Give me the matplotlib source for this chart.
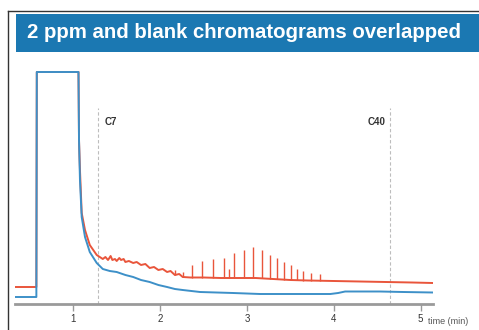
import matplotlib
matplotlib.use('Agg')
import matplotlib.pyplot as plt
from matplotlib.patches import Rectangle
from matplotlib.lines import Line2D

# ---- colours ----
RED = "#e9553b"
BLUE = "#3d90c8"
TITLE_BG = "#1b78b2"
GREY = "#9a9a9a"
DARK = "#333333"

# ---- data (time in min, detector response in arbitrary units) ----
blue_t = [0.33, 0.575, 0.58, 1.06, 1.066, 1.077, 1.097, 1.135, 1.19, 1.27, 1.34,
          1.42, 1.50, 1.60, 1.69, 1.78, 1.88, 1.98, 2.08, 2.17, 2.26, 2.46, 2.65,
          2.84, 3.15, 3.40, 3.61, 3.80, 3.96, 4.05, 4.13, 4.35, 4.53, 4.80, 5.14]
blue_y = [7, 7, 232, 232, 164, 124, 87, 67, 52, 41, 35,
          33, 32, 29, 27, 24, 22, 19, 17, 15, 14, 12, 11.5,
          11, 10, 10, 10, 10, 10, 11, 12.5, 12.5, 12.5, 12, 11.5]

red_t = [0.33, 0.575, 0.58, 1.06, 1.066, 1.077, 1.097, 1.135, 1.19, 1.27, 1.34,
         1.37, 1.40, 1.43, 1.45, 1.48, 1.50, 1.53, 1.55, 1.58, 1.60, 1.64, 1.69,
         1.73, 1.78, 1.83, 1.88, 1.93, 1.98, 2.03, 2.08, 2.12, 2.17, 2.22, 2.26,
         2.35, 2.50, 2.70, 2.90, 3.10, 3.30, 3.50, 3.70, 4.00, 4.30, 4.60, 4.90, 5.14]
red_y = [17, 17, 232, 232, 164, 134, 91, 74, 59, 49, 45,
         47, 44, 48, 44, 45, 43, 46, 44, 45, 42, 43, 41,
         42, 39, 40, 36, 37, 34, 35, 32, 33, 29, 30, 27,
         26.5, 26.5, 26, 26, 26, 25, 24, 23.5, 23, 22.5, 22, 21.5, 21]

# homologue peaks in the 2 ppm run
peak_t = [2.171, 2.263, 2.367, 2.482, 2.608, 2.735, 2.793, 2.850, 2.965, 3.069,
          3.173, 3.265, 3.345, 3.426, 3.507, 3.576, 3.645, 3.737, 3.840]
peak_base = [29, 27, 26.5, 26.5, 26.5, 26, 26, 26, 26, 26,
             26, 25.5, 25, 24.5, 24, 24, 23.5, 23.5, 23]
peak_top = [34, 32, 39, 43, 45, 46, 35, 51, 54, 57,
            54, 49, 46, 42, 39, 35, 33, 31, 30]

markers = ["C7", "C40"]
marker_t = [1.284, 4.646]
marker_top = 196

xticks = [1, 2, 3, 4, 5]

W, H = 479, 330
fig = plt.figure(figsize=(W / 100, H / 100), dpi=100)
fig.patch.set_facecolor("white")

# outer frame (top and left edges visible)
fig.add_artist(Line2D([8 / W, 8 / W], [0, 1 - 11 / H], color=DARK, lw=1.0))
fig.add_artist(Line2D([8 / W, 1], [1 - 11 / H, 1 - 11 / H], color=DARK, lw=1.0))

# title banner
fig.add_artist(Rectangle((16 / W, 1 - 52 / H), 1 - 16 / W, 38 / H,
                         transform=fig.transFigure, facecolor=TITLE_BG,
                         edgecolor="none"))
fig.text(27 / W, 1 - 33 / H, "2 ppm and blank chromatograms overlapped",
         color="white", fontsize=14.7, fontweight="bold", va="center", ha="left",
         family="Liberation Sans")

ax = fig.add_axes([15 / W, 26 / H, 418 / W, 244 / H])
ax.set_xlim(0.329, 5.142)
ax.set_ylim(0, 244)

ax.plot(red_t, red_y, color=RED, lw=1.4, zorder=3)
ax.vlines(peak_t, peak_base, peak_top, color=RED, lw=1.0, zorder=3)
ax.plot(blue_t, blue_y, color=BLUE, lw=1.4, zorder=4)

for name, t in zip(markers, marker_t):
    ax.plot([t, t], [0, marker_top], color="#bdbdbd", lw=0.8, ls=(0, (3, 2)), zorder=1)
ax.text(marker_t[0] + 0.08, 182, markers[0], fontsize=7, fontweight="bold",
        color=DARK, ha="left", va="center", family="Liberation Sans")
ax.text(marker_t[1] - 0.05, 182, markers[1], fontsize=7, fontweight="bold",
        color=DARK, ha="right", va="center", family="Liberation Sans")

for sp in ["top", "right", "left"]:
    ax.spines[sp].set_visible(False)
ax.spines["bottom"].set_color(GREY)
ax.spines["bottom"].set_linewidth(2)
ax.set_yticks([])
ax.set_xticks(xticks)
ax.set_xticklabels([str(v) for v in xticks], family="Liberation Sans")
ax.tick_params(axis="x", direction="out", length=5, width=1, color=GREY,
               labelsize=7, labelcolor=DARK, pad=2)
fig.text(428 / W, 1 - 321 / H, "time (min)", fontsize=6.5, color="#555555",
         ha="left", va="center", family="Liberation Sans")

fig.savefig("out.png", dpi=100, facecolor="white")
